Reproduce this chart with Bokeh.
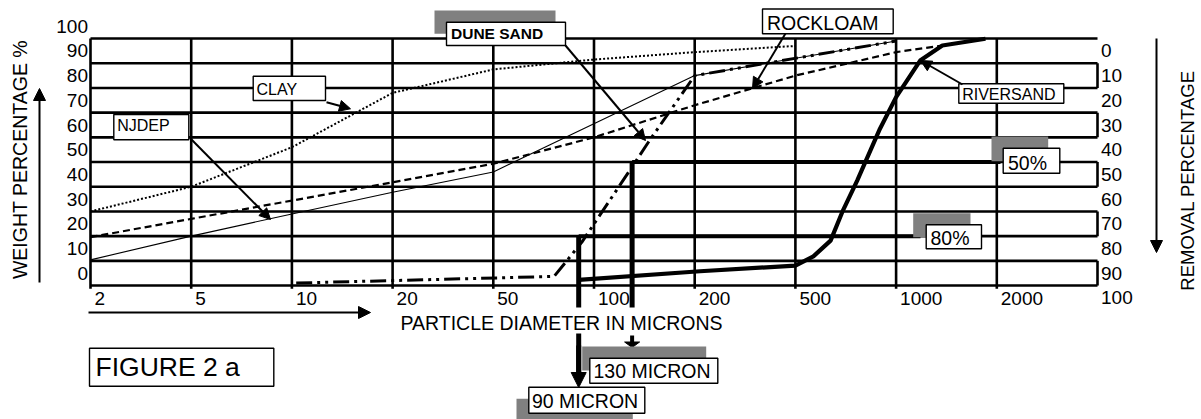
import numpy as np
from bokeh.plotting import figure
from bokeh.models import Range1d, Arrow, NormalHead
from bokeh.core.properties import value
from bokeh.embed import file_html
from bokeh.resources import INLINE

# ---------------- data ----------------
diam_ticks = [2, 5, 10, 20, 50, 100, 200, 500, 1000, 2000]
diam_labels = ["2", "5", "10", "20", "50", "100", "200", "500", "1000", "2000"]
weight_ticks = [0, 10, 20, 30, 40, 50, 60, 70, 80, 90, 100]
removal_ticks = [0, 10, 20, 30, 40, 50, 60, 70, 80, 90, 100]

clay_um = [2, 5, 10, 20, 50, 100, 200, 500]
clay_pct = [25, 35, 51, 73, 82.5, 86.5, 89.5, 92]

njdep_um = [2, 5, 10, 20, 50, 200, 1000]
njdep_pct = [5.4, 15, 24, 32.8, 41, 80, 94]

rockloam_um = [2, 5, 10, 20, 50, 100, 200, 500, 1000, 1375]
rockloam_pct = [14.6, 22, 29.4, 36.8, 44.3, 55, 68, 80, 89.5, 92.2]

dunesand_um = [10.3, 76, 92, 127, 147, 200, 1000]
dunesand_pct = [-4, -1.3, 12.6, 41, 54, 80, 94]

riversand_um = [90, 210, 500, 566, 637, 690, 765, 895, 1000, 1180, 1375, 1850]
riversand_pct = [-2.7, 0.8, 3.1, 6.8, 13.2, 24.7, 37.5, 58.5, 71.3, 86.1, 92.2, 94.9]

cut_um = [130, 90]
cut_level = [45, 15]
cut_names = ["130 MICRON", "90 MICRON"]
removal_names = ["50%", "80%"]

# ---------------- scales ----------------
EDGES = [2, 5, 10, 20, 50, 100, 200, 500, 1000, 2000, 5000]


def xpos(um):
    return np.interp(np.log10(np.asarray(um, dtype=float)), np.log10(EDGES), np.arange(len(EDGES)))


# page-pixel helpers for layout of annotations
X0, SX = 90.0, 100.7
Y0, SY = 272.7, 2.47


def px(x):
    return (x - X0) / SX


def py(y):
    return (Y0 - y) / SY


W, H = 1201, 419
FONT = value("Liberation Sans")

p = figure(width=W, height=H, x_range=Range1d(px(0), px(W)), y_range=Range1d(py(H), py(0)),
           x_axis_type=None, y_axis_type=None, toolbar_location=None, output_backend="svg",
           min_border=0)
p.outline_line_color = None
p.background_fill_color = "white"

# ---------------- grid / frame ----------------
rows = np.arange(-5, 96, 10)
p.segment(x0=[0] * len(rows), y0=rows, x1=[10] * len(rows), y1=rows, line_color="black", line_width=2.6)
cols = np.arange(0, 10)
p.segment(x0=cols, y0=[-5 - 1.3] * len(cols), x1=cols, y1=[95] * len(cols), line_color="black", line_width=2.6)
seg_lo = [-5, 15, 35, 55, 75]
p.segment(x0=[10] * 5, y0=seg_lo, x1=[10] * 5, y1=[v + 10 for v in seg_lo], line_color="black", line_width=2.6)

# ---------------- curves ----------------
p.line(xpos(clay_um), clay_pct, line_color="black", line_width=2, line_dash="2 2")
p.line(xpos(rockloam_um), rockloam_pct, line_color="black", line_width=2.2, line_dash="7 4")
p.line(xpos(njdep_um), njdep_pct, line_color="black", line_width=1.1)
p.line(xpos(dunesand_um), dunesand_pct, line_color="black", line_width=3, line_dash="16 5 3 5 3 5")
p.line(xpos(riversand_um), riversand_pct, line_color="black", line_width=4.2)

# ---------------- cut lines ----------------
hx_end = [px(1000), px(920)]
for um, lvl, xe in zip(cut_um, cut_level, hx_end):
    xc = float(xpos(um))
    p.line([xc, xe], [lvl, lvl], line_color="black", line_width=4)
    p.line([xc, xc], [lvl, py(307)], line_color="black", line_width=5)

# lower part of the 90 micron arrow
x90 = float(xpos(cut_um[1]))
p.add_layout(Arrow(x_start=x90, y_start=py(333), x_end=x90, y_end=py(387), line_width=5, line_color="black",
                   end=NormalHead(size=15, fill_color="black", line_color="black", line_width=1)))
# small arrow under the 130 micron line
x130 = float(xpos(cut_um[0]))
p.segment(x0=[x130], y0=[py(335)], x1=[x130], y1=[py(342)], line_color="black", line_width=4)
hw = 7.5 / SX
p.patch([x130 - hw, x130 + hw, x130], [py(341.5), py(341.5), py(347)],
        fill_color="black", line_color="black")

# ---------------- label boxes ----------------
# (text, left, top, right, bottom, text_x, text_y, size, bold, shadow)
boxes = [
    ("CLAY", 252.7, 75.7, 325, 100, 256, 89, "16px", False, None),
    ("NJDEP", 113.3, 114, 188.3, 139.3, 116.7, 125, "16px", False, None),
    ("DUNE SAND", 446, 21.7, 565, 45, 450.5, 32.5, "15.5px", True, (434, 10, 555, 33.3)),
    ("ROCKLOAM", 762, 8.5, 892.7, 33.3, 766.5, 22.5, "19.5px", False, None),
    ("RIVERSAND", 958.3, 83.3, 1063.3, 102.7, 961.7, 94, "16px", False, None),
    (removal_names[0], 1002.7, 147.7, 1059.3, 172.7, 1007.5, 162.5, "19.5px", False, (991, 136, 1047.7, 160.7)),
    (removal_names[1], 925.7, 224.3, 981, 248.3, 930, 237.5, "19.5px", False, (912.7, 212.7, 970, 236.7)),
    (cut_names[0], 589.3, 357.7, 717.3, 382.7, 593, 370.5, "19.5px", False, (581.7, 346, 705.7, 370)),
    (cut_names[1], 528.3, 386.7, 644.3, 412.7, 531.5, 400, "19.5px", False, (516, 398.3, 632.3, 420)),
    ("FIGURE 2 a", 89, 347.7, 273.3, 385.7, 95, 366.5, "26.5px", False, None),
]
for (t, l, tp, r, b, tx, ty, fs, bold, sh) in boxes:
    if sh is not None:
        p.quad(left=[px(sh[0])], right=[px(sh[2])], top=[py(sh[1])], bottom=[py(sh[3])],
               fill_color="#808080", line_color=None)
for (t, l, tp, r, b, tx, ty, fs, bold, sh) in boxes:
    p.quad(left=[px(l)], right=[px(r)], top=[py(tp)], bottom=[py(b)], fill_color="white",
           line_color="black", line_width=1.4)
    p.text(x=[px(tx)], y=[py(ty)], text=[t], text_font=FONT, text_font_size=fs,
           text_font_style="bold" if bold else "normal", text_color="black",
           text_align="left", text_baseline="middle")

# 90 micron shaft drawn over the 130 micron shadow
p.segment(x0=[x90], y0=[py(345)], x1=[x90], y1=[py(372)], line_color="black", line_width=5)

# ---------------- tick labels ----------------
p.text(x=[px(87.5)] * len(weight_ticks), y=weight_ticks, text=[str(v) for v in weight_ticks],
       text_font=FONT, text_font_size="19px", text_align="right", text_baseline="middle", text_color="black")
p.text(x=[px(1100.5)] * len(removal_ticks), y=[90 - v for v in removal_ticks],
       text=[str(v) for v in removal_ticks], text_font=FONT, text_font_size="19px",
       text_align="left", text_baseline="middle", text_color="black")
p.text(x=xpos(diam_ticks) + 4 / SX, y=[py(297.5)] * len(diam_ticks), text=diam_labels,
       text_font=FONT, text_font_size="19px", text_align="left", text_baseline="middle", text_color="black")

# ---------------- axis titles ----------------
p.text(x=[px(19.5)], y=[py(159)], text=["WEIGHT PERCENTAGE %"], angle=np.pi / 2, text_font=FONT,
       text_font_size="19.5px", text_align="center", text_baseline="middle", text_color="black")
p.text(x=[px(1187)], y=[py(180)], text=["REMOVAL PERCENTAGE"], angle=np.pi / 2, text_font=FONT,
       text_font_size="18.5px", text_align="center", text_baseline="middle", text_color="black")
p.text(x=[px(561)], y=[py(322.5)], text=["PARTICLE DIAMETER IN MICRONS"], text_font=FONT,
       text_font_size="19.5px", text_align="center", text_baseline="middle", text_color="black")

# axis arrows
head = dict(size=12, fill_color="black", line_color="black", line_width=1)
p.add_layout(Arrow(x_start=px(39), y_start=py(282), x_end=px(39), y_end=py(88), line_width=2,
                   end=NormalHead(**head)))
p.add_layout(Arrow(x_start=px(1156), y_start=py(38), x_end=px(1156), y_end=py(252), line_width=2,
                   end=NormalHead(**head)))
p.add_layout(Arrow(x_start=px(88), y_start=py(312), x_end=px(370), y_end=py(312), line_width=2,
                   end=NormalHead(**head)))

# pointer arrows from labels
pointers = [
    (190, 138, 270, 219),   # NJDEP
    (326, 101.7, 350, 108.3),  # CLAY
    (565, 45, 645, 140),    # DUNE SAND
    (785, 33, 752, 88),     # ROCKLOAM
    (962, 84, 920, 60),     # RIVERSAND
]
for (xs, ys, xe, ye) in pointers:
    p.add_layout(Arrow(x_start=px(xs), y_start=py(ys), x_end=px(xe), y_end=py(ye), line_width=2,
                       end=NormalHead(size=11, fill_color="black", line_color="black", line_width=1)))

open("out.html", "w").write(file_html(p, INLINE))
